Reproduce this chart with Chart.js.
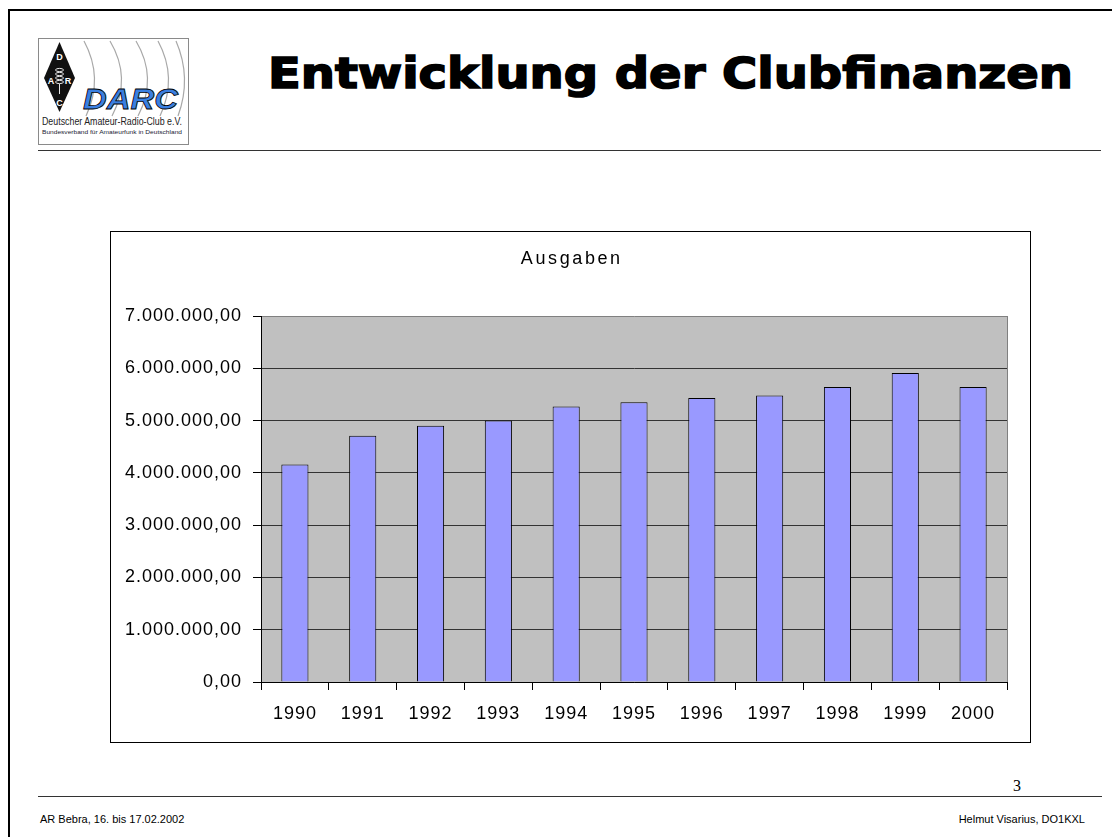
<!DOCTYPE html>
<html>
<head>
<meta charset="utf-8">
<script src="https://cdn.jsdelivr.net/npm/chart.js@4.4.1/dist/chart.umd.min.js"></script>
<style>
    body { margin: 0; background: #fff; font-family: "Liberation Sans", Arial, sans-serif; }
    #slide { position: relative; width: 1112px; height: 837px; overflow: hidden; }
    #frame { position: absolute; left: 8px; top: 9px; width: 1200px; height: 900px; border-left: 2px solid #000; border-top: 2px solid #000; }
    .line { position: absolute; height: 1px; background: #333; }
    #chartBox { position: absolute; left: 110px; top: 231px; width: 919px; height: 510px; border: 1px solid #000; }
    #chartTitle { position: absolute; left: 0; top: 16px; width: 919px; text-align: center; font-size: 18px; letter-spacing: 2.6px; text-indent: 2.6px; }
    .foot { position: absolute; top: 813px; font-size: 11px; color: #000; }
    #pageNo { position: absolute; left: 1013px; top: 777px; font-family: "Liberation Serif", serif; font-size: 16px; }
</style>
</head>
<body>
<div id="slide">
    <div id="frame"></div>

    <!-- logo -->
    <svg style="position:absolute;left:0;top:0" width="200" height="150">
        <rect x="38.5" y="38.5" width="150" height="106" fill="#fff" stroke="#8a8a8a"/>
        <g fill="none" stroke="#a8a8a8" stroke-width="1.2">
            <path d="M84,41 Q104,78 86,116"/>
            <path d="M110,41 Q132,78 112,116"/>
            <path d="M136,41 Q158,78 138,116"/>
            <path d="M158,41 Q178,78 160,116"/>
            <path d="M176,41 Q192,78 178,116"/>
        </g>
        <polygon points="59.5,42 75,78 59.5,112 44,78" fill="#111"/>
        <g fill="#fff" font-family="Liberation Sans, Arial" font-weight="bold" font-size="9" text-anchor="middle">
            <text x="59.5" y="60">D</text>
            <text x="51" y="84">A</text>
            <text x="68" y="84">R</text>
            <text x="59.5" y="106">C</text>
        </g>
        <g fill="none" stroke="#fff" stroke-width="0.9">
            <ellipse cx="59.5" cy="70" rx="4" ry="1.6"/>
            <ellipse cx="59.5" cy="74" rx="4" ry="1.6"/>
            <ellipse cx="59.5" cy="78" rx="4" ry="1.6"/>
            <ellipse cx="59.5" cy="82" rx="4" ry="1.6"/>
            <line x1="59.5" y1="84" x2="59.5" y2="94"/>
        </g>
        <text x="83" y="109" font-family="Liberation Sans, Arial" font-weight="bold" font-style="italic" font-size="30" fill="#3a7fe0" stroke="#000" stroke-width="0.8" textLength="95" lengthAdjust="spacingAndGlyphs">DARC</text>
        <text x="42" y="125" font-family="Liberation Sans, Arial" font-size="10" fill="#222" textLength="140" lengthAdjust="spacingAndGlyphs">Deutscher Amateur-Radio-Club e.V.</text>
        <text x="42" y="134" font-family="Liberation Sans, Arial" font-size="6" fill="#223" textLength="140" lengthAdjust="spacingAndGlyphs">Bundesverband für Amateurfunk in Deutschland</text>
    </svg>

    <!-- title -->
    <svg style="position:absolute;left:0;top:0" width="1112" height="150">
        <text x="268" y="88" font-family="DejaVu Sans" font-weight="bold" font-size="42" fill="#000" stroke="#000" stroke-width="1.6" textLength="805" lengthAdjust="spacingAndGlyphs">Entwicklung der Clubfinanzen</text>
    </svg>

    <div class="line" style="left:38px; top:150px; width:1063px;"></div>

    <div id="chartBox">
        <canvas id="barChart" width="919" height="510"></canvas>
        <div id="chartTitle">Ausgaben</div>
    </div>

    <div id="pageNo">3</div>
    <div class="line" style="left:38px; top:796px; width:1064px;"></div>
    <div class="foot" style="left:40px;">AR Bebra, 16. bis 17.02.2002</div>
    <div class="foot" style="right:27px;">Helmut Visarius, DO1KXL</div>
</div>

<script>
// data
const labels = ['1990', '1991', '1992', '1993', '1994', '1995', '1996', '1997', '1998', '1999', '2000'];

const ausgaben = [4160000, 4710000, 4900000, 5000000, 5270000, 5350000, 5430000, 5480000, 5640000, 5910000, 5640000];

const yTicks = [0, 1000000, 2000000, 3000000, 4000000, 5000000, 6000000, 7000000];
const yTickLabels = ['0,00', '1.000.000,00', '2.000.000,00', '3.000.000,00', '4.000.000,00',
    '5.000.000,00', '6.000.000,00', '7.000.000,00'];

Chart.defaults.font.family = '"Liberation Sans", Arial, sans-serif';
Chart.defaults.color = '#000';

// grey plot area with grey right edge, a bit of letter spacing for the labels
const plotBackground = {
    id: 'plotBackground',
    beforeDraw(chart) {
        const { ctx, chartArea: a } = chart;
        ctx.letterSpacing = '1px';
        ctx.save();
        ctx.fillStyle = '#C0C0C0';
        ctx.fillRect(a.left, a.top, a.right - a.left, a.bottom - a.top);
        ctx.strokeStyle = '#808080';
        ctx.lineWidth = 1;
        ctx.beginPath();
        ctx.moveTo(a.right + 0.5, a.top);
        ctx.lineTo(a.right + 0.5, a.bottom);
        ctx.stroke();
        ctx.restore();
    }
};

new Chart(document.getElementById('barChart'), {
    type: 'bar',
    data: {
        labels: labels,
        datasets: [{
            label: 'Ausgaben',
            data: ausgaben,
            backgroundColor: '#9999FF',
            borderColor: '#000',
            borderWidth: 1,
            barPercentage: 0.4,
            categoryPercentage: 1.0
        }]
    },
    options: {
        responsive: false,
        maintainAspectRatio: false,
        animation: false,
        layout: { padding: { left: 0, right: 23, top: 84, bottom: 0 } },
        plugins: {
            legend: { display: false },
            tooltip: { enabled: false },
            title: { display: false }
        },
        scales: {
            x: {
                grid: {
                    display: true,
                    offset: true,
                    drawOnChartArea: false,
                    drawTicks: true,
                    tickLength: 8,
                    color: '#000'
                },
                border: { display: true, color: '#000', width: 1 },
                ticks: { font: { size: 18 }, padding: 13, maxRotation: 0 },
                afterFit(scale) { scale.height = 60; }
            },
            y: {
                min: 0,
                max: 7000000,
                afterBuildTicks(scale) { scale.ticks = yTicks.map(v => ({ value: v })); },
                grid: {
                    color: ctx => (ctx.tick && ctx.tick.value === 7000000) ? '#808080' : '#333',
                    tickColor: '#000',
                    tickLength: 8
                },
                border: { display: true, color: '#000', width: 1 },
                ticks: {
                    font: { size: 18 },
                    padding: 11,
                    callback: (value, index) => yTickLabels[index]
                },
                afterFit(scale) { scale.width = 150; }
            }
        }
    },
    plugins: [plotBackground]
});
</script>
</body>
</html>
